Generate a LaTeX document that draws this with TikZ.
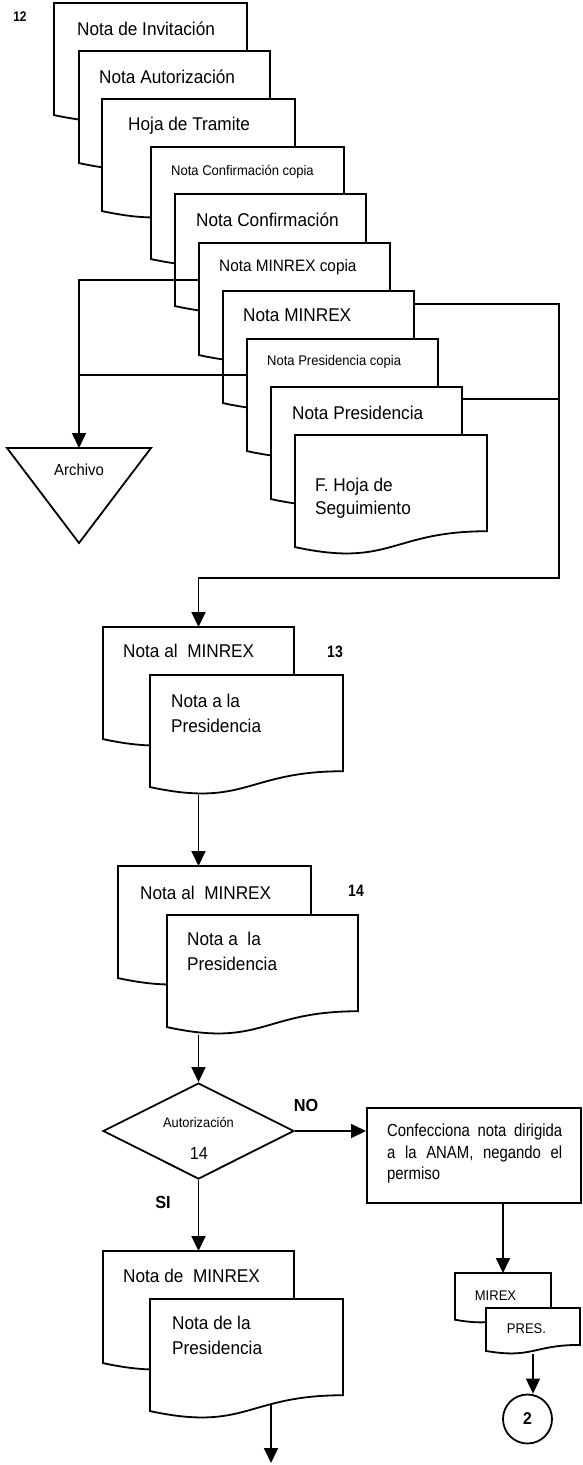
\documentclass[tikz,border=0pt]{standalone}
\usepackage{fontspec}
\setmainfont{Liberation Sans}[FakeStretch=0.93]
\newfontfamily\narrowfont{Liberation Sans}[FakeStretch=0.85]
\usetikzlibrary{arrows.meta,calc,shapes.geometric}

\newcommand\fsz[2]{\fontsize{#1}{#2}\selectfont}

% flowchart "document" outline drawn over an invisible frame node
\newcommand\docshape[1]{%
  \filldraw[doc] (#1.north west) -- (#1.north east)
    -- ($(#1.north east)!0.802!(#1.south east)$)
    .. controls ($(#1.north)!0.802!(#1.south)$) and ($(#1.north)!1.107!(#1.south)$)
    .. ($(#1.north west)!0.934!(#1.south west)$) -- cycle;}

\tikzset{
  ln/.style={line width=1.8pt, line join=miter},
  arr/.style={ln, -{Triangle[length=15pt,width=14pt]}},
  doc/.style={ln, fill=white},
  frame/.style={inner sep=0pt, outer sep=0pt, anchor=north west, minimum height=120pt},
  big/.style={inner sep=0pt, anchor=north west, align=left, font=\fsz{18.5}{25}},
  mid/.style={inner sep=0pt, anchor=north west, font=\fsz{16.5}{20}},
  small/.style={inner sep=0pt, anchor=north west, font=\fsz{14}{17}},
  tag/.style={inner sep=0pt, anchor=base, font=\narrowfont\bfseries\fsz{16.5}{18}},
}

\begin{document}
\begin{tikzpicture}[x=1pt,y=-1pt]
\useasboundingbox (0,0) rectangle (582,1465);

\node[tag, font=\narrowfont\bfseries\fsz{14}{15}] (n12) at (20,21) {12};

% stack of documents, back to front
\node[frame, minimum width=193pt] (d1) at (54,3) {};
\docshape{d1}
\node[big] (t1) at (77,21.4) {Nota de Invitación};
\node[frame, minimum width=191pt] (d2) at (79,51) {};
\docshape{d2}
\node[big] (t2) at (99,69.4) {Nota Autorización};
\node[frame, minimum width=193pt] (d3) at (102,99) {};
\docshape{d3}
\node[big] (t3) at (128,116.4) {Hoja de Tramite};
\node[frame, minimum width=193pt] (d4) at (151,147) {};
\docshape{d4}
\node[small] (t4) at (171,165) {Nota Confirmación copia};
\node[frame, minimum width=191pt] (d5) at (175,194) {};
\docshape{d5}
\node[big] (t5) at (196,212.4) {Nota Confirmación};
\node[frame, minimum width=191pt] (d6) at (199,243) {};
\docshape{d6}
\node[mid] (t6) at (219,259) {Nota MINREX copia};
\node[frame, minimum width=191pt] (d7) at (223,291) {};
\docshape{d7}
\node[big] (t7) at (243,308.4) {Nota MINREX};
\node[frame, minimum width=191pt] (d8) at (247,339) {};
\docshape{d8}
\node[small] (t8) at (267,355) {Nota Presidencia copia};
\node[frame, minimum width=191pt] (d9) at (271,387) {};
\docshape{d9}
\node[big] (t9) at (292,405.4) {Nota Presidencia};
\node[frame, minimum width=192pt] (d10) at (295,435) {};
\docshape{d10}
\node[big, font=\fsz{18.5}{23}] (t10) at (315,477.4) {F. Hoja de\\Seguimiento};

% archive symbol
\node[inner sep=0pt, outer sep=0pt, anchor=north, minimum width=144pt, minimum height=95pt] (arch) at (79,448) {};
\filldraw[doc] (arch.north west) -- (arch.north east) -- (arch.south) -- cycle;
\node[inner sep=0pt, anchor=base, font=\fsz{16}{19}] (tarch) at (79,475) {Archivo};

% step 13
\node[frame, minimum width=191pt] (dA) at (103,627) {};
\docshape{dA}
\node[big] (tA) at (123,643.4) {Nota al\ \ MINREX};
\node[frame, minimum width=193pt] (dB) at (150,675) {};
\docshape{dB}
\node[big] (tB) at (171,693.4) {Nota a la\\Presidencia};
\node[tag] (n13) at (335,657) {13};

% step 14
\node[frame, minimum width=193pt] (dC) at (118,866) {};
\docshape{dC}
\node[big] (tC) at (140,885.4) {Nota al\ \ MINREX};
\node[frame, minimum width=191pt] (dD) at (167,915) {};
\docshape{dD}
\node[big] (tD) at (187,931.4) {Nota a\ \ la\\Presidencia};
\node[tag] (n14) at (356,896) {14};

% decision
\node[draw, ln, diamond, inner sep=0pt, minimum width=191pt, minimum height=96pt] (dia) at (198.5,1131) {};
\node[inner sep=0pt, anchor=base, font=\fsz{13.8}{16}] (tdia) at (198.5,1127) {Autorización};
\node[inner sep=0pt, anchor=base, font=\fsz{17.5}{20}] (ndia) at (199,1159) {14};
\node[tag, font=\bfseries\fsz{17.5}{20}] (no) at (306,1111) {NO};
\node[tag, font=\bfseries\fsz{17.5}{20}] (si) at (163,1208) {SI};

% negative branch
\node[draw, ln, inner sep=0pt, anchor=north west, minimum width=214pt, minimum height=95pt] (box) at (366,1107) {};
\node[inner sep=0pt, anchor=north west, text width=175pt, align=justify,
      font=\narrowfont\fsz{17.5}{21.5}] (tbox) at (387,1123.7)
  {Confecciona nota dirigida\linebreak a la ANAM, negando el\linebreak permiso};
\node[frame, minimum width=96pt, minimum height=50pt] (dM) at (455,1273) {};
\docshape{dM}
\node[inner sep=0pt, anchor=base, font=\fsz{14}{17}] (tM) at (495.5,1300.5) {MIREX};
\node[frame, minimum width=94pt, minimum height=46pt] (dP) at (486,1308) {};
\docshape{dP}
\node[inner sep=0pt, anchor=base, font=\fsz{14}{17}] (tP) at (526.5,1333) {PRES.};
\node[draw, ln, circle, inner sep=0pt, minimum size=49pt, font=\bfseries\fsz{17}{20}] (circ) at (527.5,1419) {2};

% positive branch
\node[frame, minimum width=191pt] (dE) at (103,1251) {};
\docshape{dE}
\node[big] (tE) at (123,1268.4) {Nota de\ \ MINREX};
\node[frame, minimum width=193pt] (dF) at (150,1299) {};
\docshape{dF}
\node[big] (tF) at (172,1315.4) {Nota de la\\Presidencia};

% connectors
\coordinate (c6) at ($(d6.north west)+(0,37)$);
\coordinate (c8) at ($(d8.north west)+(0,36)$);
\coordinate (c7) at ($(d7.north east)+(0,13)$);
\coordinate (c9) at ($(d9.north east)+(0,12)$);
\coordinate (rr) at (559,578);
\coordinate (fout) at ($(dF.north west)+(121,105)$);
\coordinate (fend) at ($(fout)+(0,59)$);

\draw[arr] (c6) -| (arch.north);
\draw[ln] (c8) -- (c8 -| arch.north);
\draw[arr] (c7) -| (rr) -| (dA.north);
\draw[ln] (c9) -- (c9 -| rr);
\draw[arr] (dA.north |- dB.south) -- (dA.north |- dC.north);
\draw[arr] (dia.north |- dD.south) -- (dia.north);
\draw[arr] (dia.east) -- (dia.east -| box.west);
\draw[arr] (dia.south) -- (dE.north);
\draw[arr] (dM.north |- box.south) -- (dM.north);
\draw[arr] (dP.south) -- (dP.south |- circ.north);
\draw[arr] (fout) -- (fend);
\end{tikzpicture}
\end{document}
